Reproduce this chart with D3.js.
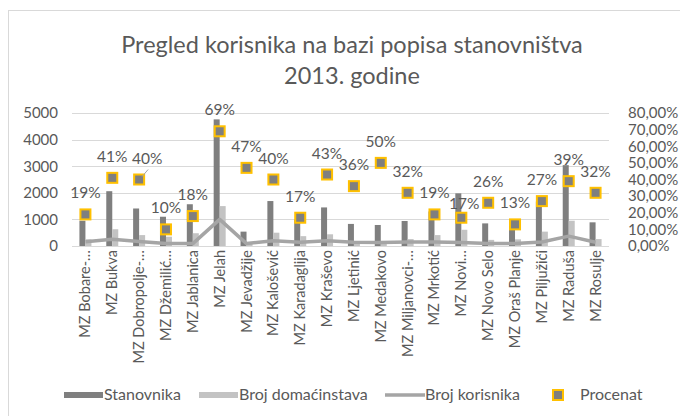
<!DOCTYPE html>
<html>
<head>
<meta charset="utf-8">
<script src="https://cdn.jsdelivr.net/npm/d3@7"></script>
<style>
  body { margin: 0; background: #fff; }
  svg { display: block; font-family: Lato, "Open Sans", sans-serif; }
</style>
</head>
<body>
<svg></svg>
<script>
///////////////////////////////////////////
// Data
var categories = ["MZ Bobare-…", "MZ Bukva", "MZ Dobropolje-…", "MZ Džemilić…", "MZ Jablanica",
  "MZ Jelah", "MZ Jevadžije", "MZ Kalošević", "MZ Karadaglija", "MZ Kraševo",
  "MZ Ljetinić", "MZ Medakovo", "MZ Miljanovci-…", "MZ Mrkotić", "MZ Novi…",
  "MZ Novo Selo", "MZ Oraš Planje", "MZ Piljužići", "MZ Raduša", "MZ Rosulje"];
var stanovnika   = [950, 2060, 1410, 1100, 1570, 4760, 540, 1690, 1000, 1450, 830, 790, 940, 1300, 1980, 850, 760, 1670, 3040, 890];
var domacinstava = [250, 630, 410, 350, 480, 1500, 110, 500, 370, 440, 120, 120, 260, 410, 610, 230, 250, 540, 950, 260];
var korisnika    = [160, 250, 165, 90, 90, 1000, 90, 200, 140, 200, 140, 130, 150, 150, 130, 90, 90, 150, 370, 140];
var procenat     = [0.19, 0.41, 0.40, 0.10, 0.18, 0.69, 0.47, 0.40, 0.17, 0.43, 0.36, 0.50, 0.32, 0.19, 0.17, 0.26, 0.13, 0.27, 0.39, 0.32];
var leftTicks  = [0, 1000, 2000, 3000, 4000, 5000];
var rightTicks = [0, 0.1, 0.2, 0.3, 0.4, 0.5, 0.6, 0.7, 0.8];
var titleLines = ["Pregled korisnika na bazi popisa stanovništva", "2013. godine"];
var legendNames = ["Stanovnika", "Broj domaćinstava", "Broj korisnika", "Procenat"];

///////////////////////////////////////////
// Layout / style
var svgWidth = 680, svgHeight = 416;
var plot = {left: 72, right: 609, top: 113, bottom: 246};
var textColor = "#595959",
    darkColor = "#7f7f7f",
    lightColor = "#c3c3c3",
    lineColor = "#a5a5a5",
    gridColor = "#d9d9d9",
    markerStroke = "#ffc000";
// label tweaks for the two labels Excel moved
var labelNudge = {2: [8, 0], 14: [3, 7]};

var svg = d3.select("svg").attr("width", svgWidth).attr("height", svgHeight);

// chart border
svg.append("rect")
  .attr("x", 8.5).attr("y", 10.5)
  .attr("width", 700).attr("height", 440)
  .attr("fill", "none").attr("stroke", gridColor);

// title
svg.append("g").selectAll("text")
  .data(titleLines).enter().append("text")
  .attr("x", 352).attr("y", function(d, i) { return 53 + i * 31; })
  .attr("text-anchor", "middle")
  .attr("fill", textColor)
  .style("font-size", "23.5px")
  .text(function(d) { return d; });

///////////////////////////////////////////
// Scales
var x = d3.scaleBand().domain(categories).range([plot.left, plot.right]);
var xInner = d3.scaleBand().domain([0, 1]).range([-6, 6]);
var yLeft = d3.scaleLinear().domain([0, 5000]).range([plot.bottom, plot.top]);
var yRight = d3.scaleLinear().domain([0, 0.8]).range([plot.bottom, plot.top]);

// gridlines
svg.append("g").selectAll("line")
  .data(leftTicks).enter().append("line")
  .attr("x1", plot.left).attr("x2", plot.right)
  .attr("y1", function(d) { return Math.round(yLeft(d)) + 0.5; })
  .attr("y2", function(d) { return Math.round(yLeft(d)) + 0.5; })
  .attr("stroke", gridColor);

// left axis
var leftAxis = svg.append("g")
  .attr("transform", "translate(" + (plot.left - 14) + ",0)")
  .call(d3.axisLeft(yLeft).tickValues(leftTicks).tickSize(0).tickPadding(0).tickFormat(d3.format("d")));
// right axis
var pctFmt = function(d) { return d3.format(".2f")(d * 100).replace(".", ",") + "%"; };
var rightAxis = svg.append("g")
  .attr("transform", "translate(" + 628 + ",0)")
  .call(d3.axisRight(yRight).tickValues(rightTicks).tickSize(0).tickPadding(0).tickFormat(pctFmt));
[leftAxis, rightAxis].forEach(function(a) {
  a.select(".domain").remove();
  a.selectAll("text").attr("fill", textColor).style("font-size", "15px").style("font-family", "Lato");
});

///////////////////////////////////////////
// Bars
var groups = svg.append("g").selectAll("g")
  .data(categories).enter().append("g")
  .attr("transform", function(d) { return "translate(" + (x(d) + x.bandwidth() / 2) + ",0)"; });

groups.append("rect")
  .attr("x", xInner(0)).attr("width", xInner.bandwidth())
  .attr("y", function(d, i) { return yLeft(stanovnika[i]); })
  .attr("height", function(d, i) { return yLeft(0) - yLeft(stanovnika[i]); })
  .attr("fill", darkColor);

groups.append("rect")
  .attr("x", xInner(1)).attr("width", xInner.bandwidth())
  .attr("y", function(d, i) { return yLeft(domacinstava[i]); })
  .attr("height", function(d, i) { return yLeft(0) - yLeft(domacinstava[i]); })
  .attr("fill", lightColor);

// line
var line = d3.line()
  .x(function(d, i) { return x(categories[i]) + x.bandwidth() / 2; })
  .y(function(d) { return yLeft(d); });
svg.append("path")
  .datum(korisnika)
  .attr("d", line)
  .attr("fill", "none")
  .attr("stroke", lineColor)
  .attr("stroke-width", 3.5)
  .attr("stroke-linejoin", "round");

// procenat markers
var cx = function(i) { return x(categories[i]) + x.bandwidth() / 2; };
svg.append("g").selectAll("rect")
  .data(procenat).enter().append("rect")
  .attr("x", function(d, i) { return cx(i) - 5; })
  .attr("y", function(d) { return yRight(d) - 5; })
  .attr("width", 10).attr("height", 10)
  .attr("fill", darkColor)
  .attr("stroke", markerStroke).attr("stroke-width", 2);

// leader line for moved label
svg.append("line")
  .attr("x1", cx(2) + 3).attr("y1", yRight(procenat[2]) - 3)
  .attr("x2", cx(2) + 9).attr("y2", yRight(procenat[2]) - 10)
  .attr("stroke", lineColor);

// data labels
svg.append("g").selectAll("text")
  .data(procenat).enter().append("text")
  .attr("x", function(d, i) { return cx(i) + (labelNudge[i] ? labelNudge[i][0] : 0); })
  .attr("y", function(d, i) { return yRight(d) - 16 + (labelNudge[i] ? labelNudge[i][1] : 0); })
  .attr("text-anchor", "middle")
  .attr("fill", textColor)
  .style("font-size", "15.5px")
  .text(function(d) { return Math.round(d * 100) + "%"; });

// x labels
svg.append("g").selectAll("text")
  .data(categories).enter().append("text")
  .attr("transform", function(d) { return "translate(" + (x(d) + x.bandwidth() / 2 + 5) + "," + (plot.bottom + 4) + ") rotate(-90)"; })
  .attr("text-anchor", "end")
  .attr("fill", textColor)
  .style("font-size", "14.5px")
  .text(function(d) { return d; });

///////////////////////////////////////////
// Legend
var legendY = 395;
var legend = svg.append("g");
var lg = [
  {x: 64, type: "bar", color: darkColor},
  {x: 199, type: "bar", color: lightColor},
  {x: 385, type: "line", color: lineColor},
  {x: 553, type: "marker"}
];
lg.forEach(function(d, i) {
  if (d.type == "bar") {
    legend.append("rect").attr("x", d.x).attr("y", legendY - 3).attr("width", 39).attr("height", 6).attr("fill", d.color);
  } else if (d.type == "line") {
    legend.append("line").attr("x1", d.x).attr("x2", d.x + 40).attr("y1", legendY).attr("y2", legendY)
      .attr("stroke", d.color).attr("stroke-width", 3.5);
  } else {
    legend.append("rect").attr("x", d.x).attr("y", legendY - 5).attr("width", 10).attr("height", 10)
      .attr("fill", darkColor).attr("stroke", markerStroke).attr("stroke-width", 2);
  }
  legend.append("text")
    .attr("x", d.type == "marker" ? d.x + 27 : d.x + 40)
    .attr("y", legendY + 5)
    .attr("fill", textColor)
    .style("font-size", "16px")
    .text(legendNames[i]);
});
</script>
</body>
</html>
